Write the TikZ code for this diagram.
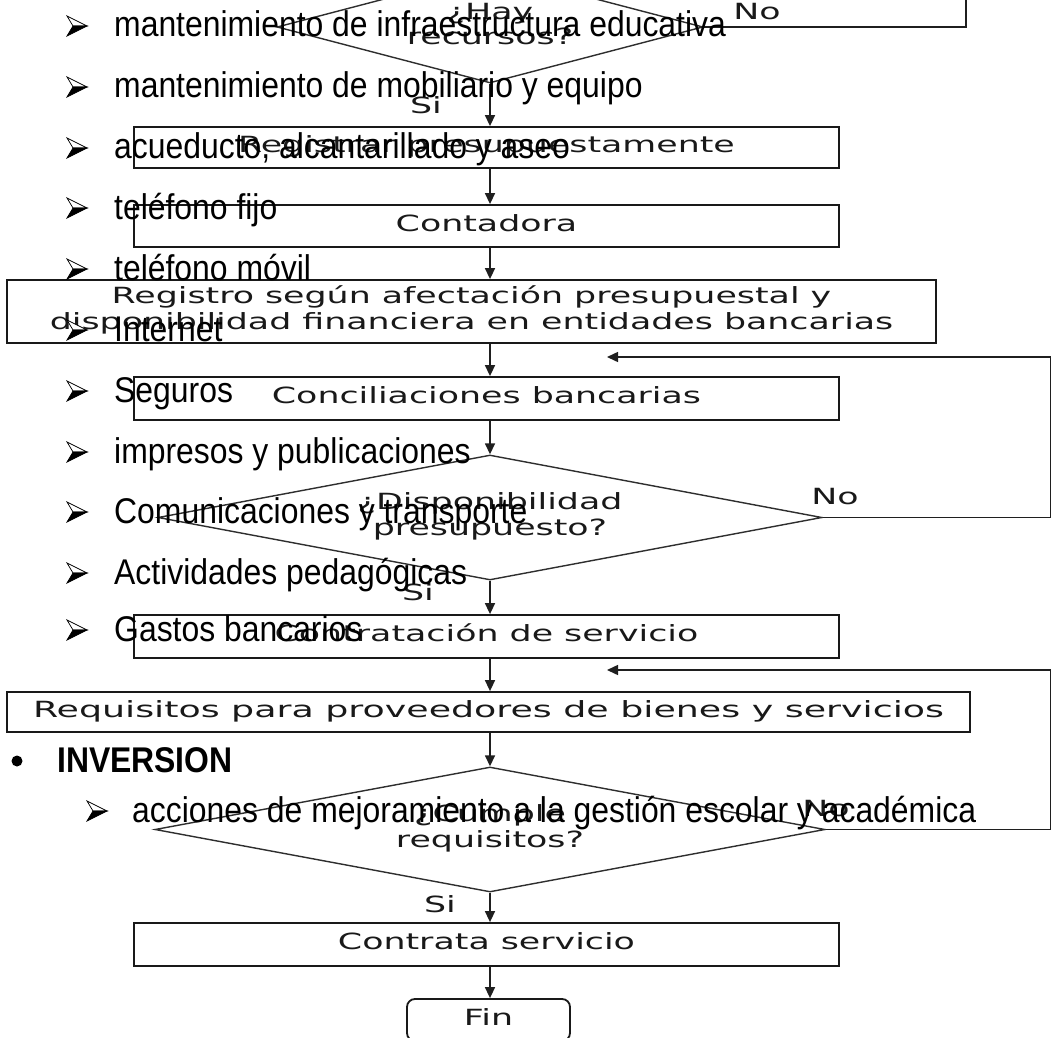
\documentclass[tikz,border=0pt]{standalone}
\usepackage{fontspec}
\usepackage{graphicx}
\setmainfont{Liberation Sans}
\newfontfamily\fcfont{DejaVu Sans}
\usetikzlibrary{shapes.geometric,arrows.meta}

% flowchart labels: DejaVu Sans, widened horizontally
\newcommand\fctext[2][1.56]{\scalebox{#1}[1]{\fcfont\fontsize{22.3}{25.5}\selectfont\begin{tabular}{@{}c@{}}#2\end{tabular}}}
% list entries: Liberation Sans, slightly tall
\newcommand\listfont{\fontsize{31.9}{38}\selectfont}
\newcommand\li[1]{\scalebox{1}[1.12]{#1}}

\tikzset{
  x=1pt, y=-1pt,
  fcbox/.style={rectangle, draw=black!90, line width=1.8pt, inner sep=0pt, text=black!90},
  decision/.style={diamond, draw=black!82, line width=1.4pt, inner sep=0pt, text=black!90},
  flow/.style={draw=black!88, line width=1.5pt, -{Triangle[length=11pt,width=10pt]}},
  loopline/.style={draw=black!88, line width=1.5pt},
  lbl/.style={inner sep=0pt, text=black!90},
  item/.style={anchor=base west, inner sep=0pt, font=\listfont},
  abullet/.pic={
    \filldraw[fill=white, draw=black, line width=0.7pt] (0,-10) -- (20,0) -- (6,0) -- cycle;
    \filldraw[fill=black, draw=black, line width=0.7pt] (6,0) -- (20,0) -- (0,10) -- cycle;
  }
}

\begin{document}
\begin{tikzpicture}
\useasboundingbox (0,0) rectangle (1052,1038);
\clip (0,0) rectangle (1052,1038);
\fill[white] (0,0) rectangle (1052,1038);

% ---------- flowchart ----------
\coordinate (axis) at (490,0);

\node[decision, aspect=3.8, minimum width=426pt, minimum height=112pt] (d1) at (490,27) {\fctext{¿Hay\\recursos?}};
\node[fcbox, minimum width=705pt, minimum height=41pt] (b1) at (486.5,147.5) {\fctext{Registrar presupuestamente}};
\node[fcbox, minimum width=705pt, minimum height=42pt] (b2) at (486.5,226) {\fctext{Contadora}};
\node[fcbox, minimum width=929pt, minimum height=63pt] (b3) at (471.5,311.5) {\fctext{Registro según afectación presupuestal y\\disponibilidad financiera en entidades bancarias}};
\node[fcbox, minimum width=705pt, minimum height=43pt] (b4) at (486.5,398.5) {\fctext{Conciliaciones bancarias}};
\node[decision, aspect=5.31, minimum width=664pt, minimum height=125pt] (d2) at (490,517.5) {\fctext{¿Disponibilidad\\presupuesto?}};
\node[fcbox, minimum width=705pt, minimum height=43pt] (b5) at (486.5,636.5) {\fctext{Contratación de servicio}};
\node[fcbox, minimum width=963pt, minimum height=40pt] (b6) at (488.5,712) {\fctext[1.63]{Requisitos para proveedores de bienes y servicios}};
\node[decision, aspect=5.36, minimum width=670pt, minimum height=125pt] (d3) at (490,829.5) {\fctext{¿Cumple\\requisitos?}};
\node[fcbox, minimum width=705pt, minimum height=43pt] (b7) at (486.5,944.5) {\fctext{Contrata servicio}};
\node[fcbox, rounded corners=8pt, minimum width=163pt, minimum height=42pt] (fin) at (488.5,1020) {\fctext{Fin}};

% main flow
\draw[flow] (d1.south) -- (d1.south |- b1.north);
\draw[flow] (b1.south -| axis) -- (b2.north -| axis);
\draw[flow] (b2.south -| axis) -- (b3.north -| axis);
\draw[flow] (b3.south -| axis) -- (b4.north -| axis);
\draw[flow] (b4.south -| axis) -- (d2.north);
\draw[flow] (d2.south) -- (d2.south |- b5.north);
\draw[flow] (b5.south -| axis) -- (b6.north -| axis);
\draw[flow] (b6.south -| axis) -- (d3.north);
\draw[flow] (d3.south) -- (d3.south |- b7.north);
\draw[flow] (b7.south -| axis) -- (fin.north -| axis);

% "No" branches
\coordinate (topr) at (966,-10);
\coordinate (r1) at (1050.5,357);
\coordinate (t1) at (607,357);
\coordinate (r2) at (1050.5,670);
\coordinate (t2) at (607,670);
\draw[loopline] (d1.east) -| (topr);
\draw[flow] (d2.east) -- (d2.east -| r1) -- (r1) -- (t1);
\draw[flow] (d3.east) -- (d3.east -| r2) -- (r2) -- (t2);

% branch labels
\node[lbl] (no1) at (757,14) {\fctext{No}};
\node[lbl] (si1) at (426,108) {\fctext{Si}};
\node[lbl] (no2) at (835,499) {\fctext{No}};
\node[lbl] (si2) at (418,595) {\fctext{Si}};
\node[lbl] (no3) at (826,811) {\fctext{No}};
\node[lbl] (si3) at (440,907) {\fctext{Si}};

% ---------- bullet list ----------
\pic at (67,26) {abullet};
\node[item] (i1) at (114,37) {\li{mantenimiento de infraestructura educativa}};
\pic at (67,87) {abullet};
\node[item] (i2) at (114,98) {\li{mantenimiento de mobiliario y equipo}};
\pic at (67,148) {abullet};
\node[item] (i3) at (114,159) {\li{acueducto, alcantarillado y aseo}};
\pic at (67,208) {abullet};
\node[item] (i4) at (114,219) {\li{teléfono fijo}};
\pic at (67,269) {abullet};
\node[item] (i5) at (114,280) {\li{teléfono móvil}};
\pic at (67,330) {abullet};
\node[item] (i6) at (114,341) {\li{Internet}};
\pic at (67,391) {abullet};
\node[item] (i7) at (114,402) {\li{Seguros}};
\pic at (67,452) {abullet};
\node[item] (i8) at (114,463) {\li{impresos y publicaciones}};
\pic at (67,512) {abullet};
\node[item] (i9) at (114,523) {\li{Comunicaciones y transporte}};
\pic at (67,573) {abullet};
\node[item] (i10) at (114,584) {\li{Actividades pedagógicas}};
\pic at (67,630) {abullet};
\node[item] (i11) at (114,641) {\li{Gastos bancarios}};

\fill (17,761) circle (5.5pt);
\node[item, font=\listfont\bfseries] (inv) at (57,772) {\li{INVERSION}};
\pic at (87,811) {abullet};
\node[item] (i12) at (132,822) {\li{acciones de mejoramiento a la gestión escolar y académica}};
\end{tikzpicture}
\end{document}
